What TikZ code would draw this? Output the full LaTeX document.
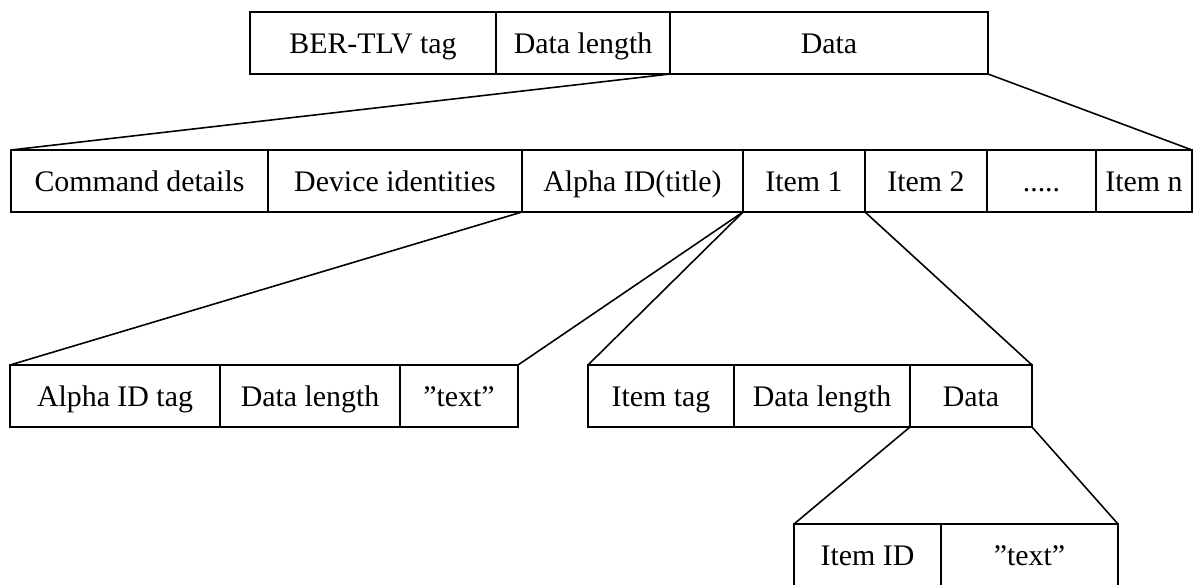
\documentclass[tikz,border=0pt]{standalone}
\usepackage{fontspec}
\setmainfont{Liberation Serif}
\usepackage{tikz}
\newcommand{\fivedots}{.....}

\begin{document}
\begin{tikzpicture}
[x=0.02cm,y=-0.02cm,
  cellDecorate/.style={shape=rectangle,draw,line width=0.9pt,inner sep=0pt,outer sep=0pt,
    anchor=north west,minimum height=62*0.02cm,text height=11.4pt,text depth=0pt,
    font=\fontsize{17}{20}\selectfont},%
  lineDecorate/.style={-,line width=0.9pt}]
\useasboundingbox (0,0) rectangle (1201,585);
%% top level: BER-TLV object
\foreach \nodename/\x/\w/\txt in {ber/250/246/BER-TLV tag, len/496/174/Data length, data/670/318/Data} {
  \node (\nodename) at (\x,12) [cellDecorate,minimum width=\w*0.02cm] {\txt};
}
%% data objects
\foreach \nodename/\x/\w/\txt in {cmd/11/257/Command details, dev/268/254/Device identities,
    alpha/522/221/Alpha ID(title), itemA/743/122/Item 1, itemB/865/122/Item 2,
    dots/987/109/\fivedots, itemN/1096/96/Item n} {
  \node (\nodename) at (\x,150) [cellDecorate,minimum width=\w*0.02cm] {\txt};
}
%% alpha identifier and item
\foreach \nodename/\x/\w/\txt in {atag/10/210/Alpha ID tag, alen/220/180/Data length, atext/400/118/''text'',
    itag/588/146/Item tag, ilen/734/176/Data length, idata/910/122/Data} {
  \node (\nodename) at (\x,365) [cellDecorate,minimum width=\w*0.02cm] {\txt};
}
%% item data
\foreach \nodename/\x/\w/\txt in {iid/794/147/Item ID, itext/941/177/''text''} {
  \node (\nodename) at (\x,524) [cellDecorate,minimum width=\w*0.02cm] {\txt};
}
%% expansion lines
\path
\foreach \startnode/\endnode in {data.south west/cmd.north west, data.south east/itemN.north east,
    alpha.south west/atag.north west, itemA.south west/atext.north east,
    itemA.south west/itag.north west, itemA.south east/idata.north east,
    idata.south west/iid.north west, idata.south east/itext.north east} {
  (\startnode) edge[lineDecorate] (\endnode)
};
\end{tikzpicture}
\end{document}
